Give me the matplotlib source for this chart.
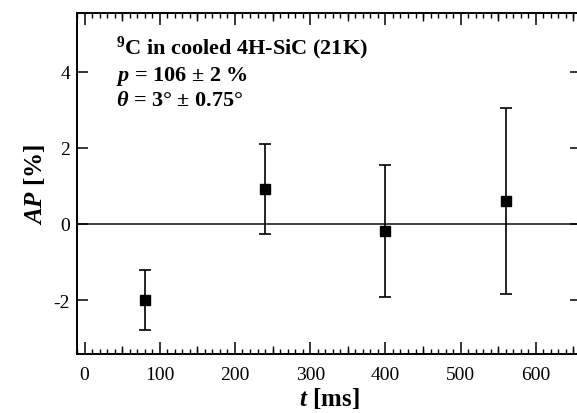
import numpy as np
import matplotlib
matplotlib.use("Agg")
import matplotlib.pyplot as plt
from matplotlib.ticker import MultipleLocator

# ---------------- datos ----------------
t_ms = [80, 240, 400, 560]
ap = [-2.0, 0.92, -0.19, 0.60]
ap_err = [0.80, 1.19, 1.73, 2.45]

x_major = [0, 100, 200, 300, 400, 500, 600]
x_mid = [50, 150, 250, 350, 450, 550, 650]
y_major = [-2, 0, 2, 4]

# ---------------- estilo ----------------
plt.rcParams['font.family'] = 'Liberation Serif'
plt.rcParams['font.weight'] = 'bold'
plt.rcParams['mathtext.fontset'] = 'custom'
plt.rcParams['mathtext.rm'] = 'Liberation Serif:bold'
plt.rcParams['mathtext.it'] = 'Liberation Serif:italic:bold'
plt.rcParams['mathtext.bf'] = 'Liberation Serif:bold'

fig = plt.figure(figsize=(5.77, 4.14), dpi=100)
ax = fig.add_axes([77 / 577, 59 / 414, 504 / 577, 341 / 414])

ax.axhline(0, color='#333333', lw=1.3, zorder=1)
ax.errorbar(t_ms, ap, yerr=ap_err, fmt='s', color='black', ms=7,
            elinewidth=1.2, capsize=4, capthick=1.2, zorder=3)

ax.set_xlim(-10, 660)
ax.set_ylim(-3.42, 5.55)

ax.set_xticks(x_major)
ax.xaxis.set_minor_locator(MultipleLocator(10))
ax.set_yticks(y_major)
ax.set_yticklabels(['-2', '0', '2', '4'])

ax.tick_params(axis='x', which='major', direction='in', length=8.5, width=1.1,
               top=True, labelsize=14, pad=9)
ax.tick_params(axis='x', which='minor', direction='in', length=3.6, width=1.0,
               top=True)
ax.tick_params(axis='y', which='major', direction='in', length=8, width=1.1,
               right=True, labelsize=14, pad=5)
for lab in ax.get_xticklabels() + ax.get_yticklabels():
    lab.set_fontweight('normal')

# ticks intermedios (cada 50 ms)
for loc in ['bottom', 'top']:
    sec = ax.secondary_xaxis(loc)
    sec.set_xticks(x_mid)
    sec.tick_params(direction='in', length=6, width=1.0, labelbottom=False,
                    labeltop=False)
    sec.spines[loc].set_visible(False)

for s in ax.spines.values():
    s.set_linewidth(1.4)
ax.spines['right'].set_visible(False)

ax.set_xlabel(r'$t$ [ms]', fontsize=18, fontweight='bold', labelpad=1)
ax.set_ylabel(r'$AP$ [%]', fontsize=18, fontweight='bold', labelpad=5)

ax.text(0.078, 0.94,
        '$^{9}$C in cooled 4H-SiC (21K)\n'
        '$p$ = 106 ± 2 %\n'
        r'$\theta$ = 3° ± 0.75°',
        transform=ax.transAxes, ha='left', va='top', fontsize=16,
        fontweight='bold', linespacing=1.2)

fig.savefig('out.png', dpi=100)
